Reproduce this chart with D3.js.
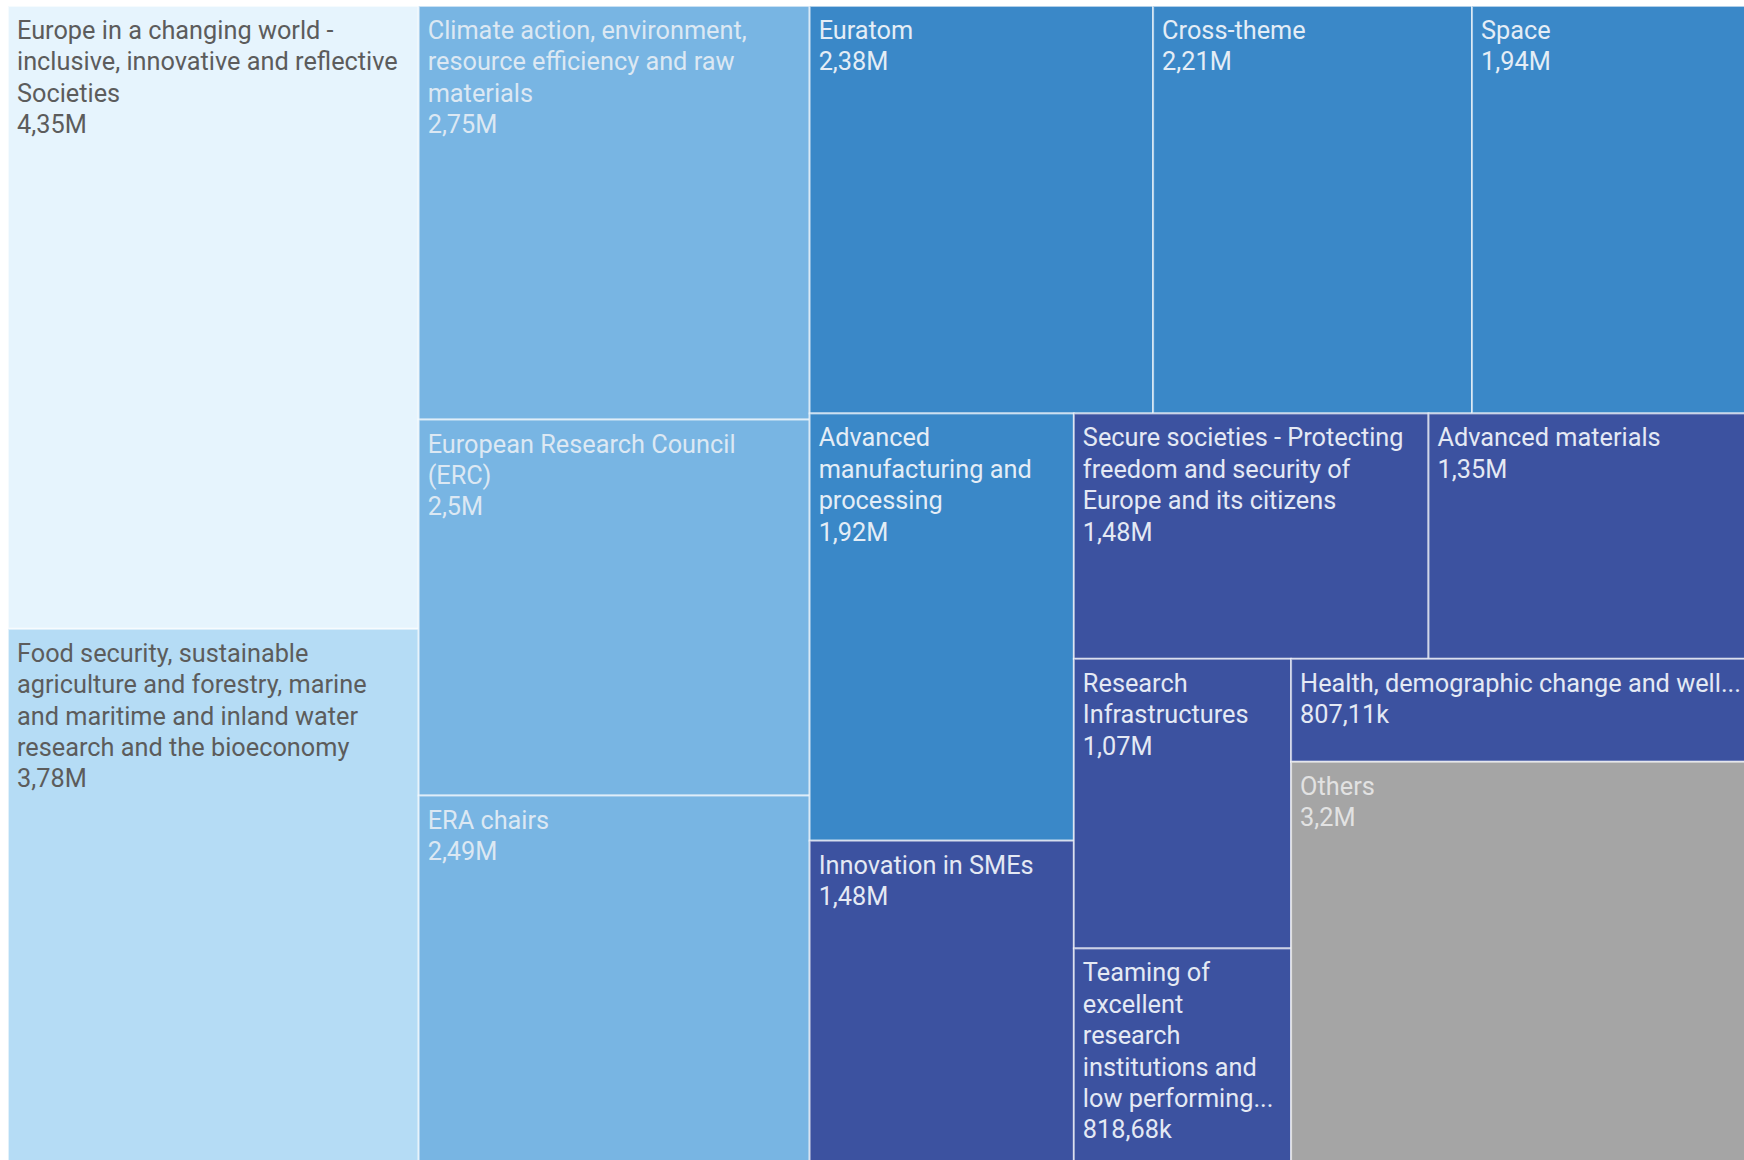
<!DOCTYPE html>
<meta charset="utf-8">
<style>

body {
  margin: 0;
  background: #fff;
  overflow: hidden;
}

.tile rect {
  stroke: rgba(255,255,255,0.6);
  stroke-width: 2px;
}

.tile text {
  font: 25.3px Roboto, sans-serif;
}

</style>
<body>
<script src="https://cdn.jsdelivr.net/npm/d3@7"></script>
<script>

// labels as wrapped in the chart, one line per "\n"
var labels = [
  "Europe in a changing world -\ninclusive, innovative and reflective\nSocieties",
  "Food security, sustainable\nagriculture and forestry, marine\nand maritime and inland water\nresearch and the bioeconomy",
  "Climate action, environment,\nresource efficiency and raw\nmaterials",
  "European Research Council\n(ERC)",
  "ERA chairs",
  "Euratom",
  "Cross-theme",
  "Space",
  "Advanced\nmanufacturing and\nprocessing",
  "Innovation in SMEs",
  "Secure societies - Protecting\nfreedom and security of\nEurope and its citizens",
  "Advanced materials",
  "Research\nInfrastructures",
  "Teaming of\nexcellent\nresearch\ninstitutions and\nlow performing...",
  "Health, demographic change and well...",
  "Others"
];

var values = [4350000, 3780000, 2750000, 2500000, 2490000, 2380000, 2210000, 1940000,
              1920000, 1480000, 1480000, 1350000, 1070000, 818680, 807110, 3200000];

var othersLabel = "Others";

// the treemap runs a little past the right and bottom edges of the view
var margin = {top: 6, left: 8},
    width = 1744,
    height = 1164;

var locale = d3.formatLocale({decimal: ",", thousands: ".", grouping: [3], currency: ["", ""]});
var fmt = locale.format(".2~f");
function formatValue(v) {
  return v >= 1e6 ? fmt(v / 1e6) + "M" : fmt(v / 1e3) + "k";
}

// lighter tiles for bigger values
var color = d3.scaleThreshold()
    .domain([1500000, 2400000, 3500000, 4000000])
    .range(["#3c52a0", "#3a88c8", "#78b5e3", "#b5dcf5", "#e6f4fd"]);

var textColor = d3.scaleThreshold()
    .domain([1500000, 2400000, 3500000])
    .range(["#e4e9f4", "#e4edf6", "#dce8f3", "#5c5c5c"]);

var data = labels.map(function(l, i) { return {name: l, value: values[i]}; });

var root = d3.hierarchy({children: data})
    .sum(function(d) { return d.value; });

d3.treemap()
    .tile(d3.treemapSquarify.ratio(1))
    .size([width, height])
    (root);

var svg = d3.select("body").append("svg")
    .attr("width", 1744)
    .attr("height", 1160)
  .append("g")
    .attr("transform", "translate(" + margin.left + "," + margin.top + ")");

var tile = svg.selectAll(".tile")
    .data(root.leaves())
  .enter().append("g")
    .attr("class", "tile")
    .attr("transform", function(d) { return "translate(" + d.x0 + "," + d.y0 + ")"; });

tile.append("rect")
    .attr("width", function(d) { return d.x1 - d.x0; })
    .attr("height", function(d) { return d.y1 - d.y0; })
    .attr("fill", function(d) { return d.data.name == othersLabel ? "#a5a5a5" : color(d.data.value); });

var text = tile.append("text")
    .attr("x", 9)
    .attr("y", 33)
    .attr("fill", function(d) { return d.data.name == othersLabel ? "#e2e2e2" : textColor(d.data.value); });

text.selectAll("tspan")
    .data(function(d) { return d.data.name.split("\n").concat(formatValue(d.data.value)); })
  .enter().append("tspan")
    .attr("x", 9)
    .attr("dy", function(d, i) { return i ? 31.4 : 0; })
    .text(function(d) { return d; });

</script>
